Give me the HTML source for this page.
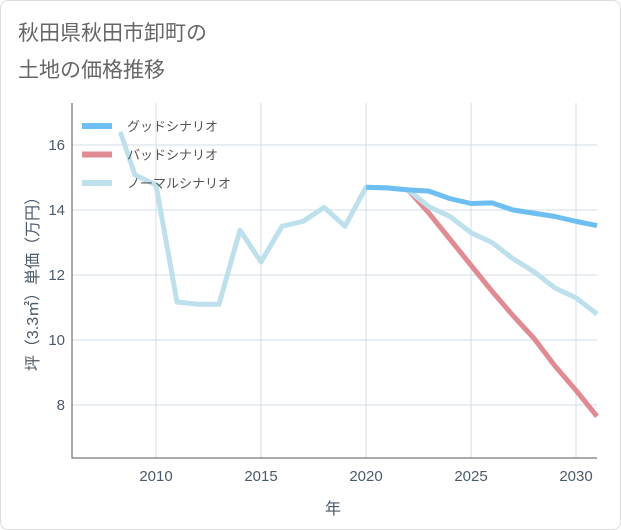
<!DOCTYPE html>
<html><head><meta charset="utf-8">
<style>
body{margin:0;background:#fff;font-family:"Liberation Sans","Noto Sans CJK JP",sans-serif;}
#wrap{position:relative;width:619px;height:528px;border:1px solid #ddd;border-radius:8px;overflow:hidden;}
</style></head><body>
<div id="wrap">
<svg id="chart" width="621" height="530" style="position:absolute;left:-1px;top:-1px">
<text x="18" y="40" font-size="21" fill="#666">秋田県秋田市卸町の</text>
<text x="18" y="77" font-size="21" fill="#666">土地の価格推移</text>
<g id="grid"></g><g id="axes"></g><g id="series"></g><g id="legend"></g>
<text x="333" y="514" font-size="16" fill="#4a5a6a" text-anchor="middle">年</text>
<text transform="translate(38,280) rotate(-90)" font-size="16" fill="#4a5a6a" text-anchor="middle">坪（3.3㎡）単価（万円）</text>
</svg>
</div>
<script>
const xTicks=[2010,2015,2020,2025,2030];
const yTicks=[8,10,12,14,16];
const normalYears=[2008.3,2009,2010,2011,2012,2013,2014,2015,2016,2017,2018,2019,2020,2021,2022,2023,2024,2025,2026,2027,2028,2029,2030,2031];
const normalVals=[16.4,15.08,14.77,11.17,11.1,11.1,13.38,12.4,13.5,13.65,14.08,13.5,14.7,14.68,14.62,14.1,13.8,13.3,13.0,12.5,12.1,11.6,11.3,10.8];
const goodYears=[2020,2021,2022,2023,2024,2025,2026,2027,2028,2029,2030,2031];
const goodVals=[14.7,14.68,14.62,14.58,14.35,14.2,14.22,14.0,13.9,13.8,13.65,13.52];
const badYears=[2022,2023,2024,2025,2026,2027,2028,2029,2030,2031];
const badVals=[14.62,13.9,13.1,12.3,11.5,10.75,10.05,9.2,8.45,7.65];
const X0=72,X1=597,Y0=103,Y1=458;
const x=v=>X0+(v-2006)*21;
const y=v=>145+(16-v)*32.5;
const NS='http://www.w3.org/2000/svg';
function mk(tag,attrs,parent,text){const e=document.createElementNS(NS,tag);for(const k in attrs)e.setAttribute(k,attrs[k]);if(text!=null)e.textContent=text;parent.appendChild(e);return e;}
const grid=document.getElementById('grid'),axes=document.getElementById('axes'),ser=document.getElementById('series'),leg=document.getElementById('legend');
xTicks.forEach(t=>{
 const l=mk('line',{x1:x(t),x2:x(t),y1:Y0,y2:Y1,stroke:'#d0dce8','stroke-width':1},grid);
 
 
 const tx=mk('text',{x:x(t),y:481,'font-size':15,fill:'#4a5a6a','text-anchor':'middle'},axes,t);
 
 
});
yTicks.forEach(t=>{
 const l=mk('line',{x1:X0,x2:X1,y1:y(t),y2:y(t),stroke:'#d0dce8','stroke-width':1},grid);
 
 
 const tx=mk('text',{x:65,y:y(t)+5,'font-size':15,fill:'#4a5a6a','text-anchor':'end'},axes,t);
 
 
});
const ax=mk('path',{d:`M${X0} ${Y0}V${Y1}H${X1}`,stroke:'#555','stroke-width':1,fill:'none'},axes);


function line(ys,vs,color,name){
 const d=ys.map((yr,i)=>(i?'L':'M')+x(yr)+' '+y(vs[i])).join('');
 const p=mk('path',{d:d,stroke:color,'stroke-width':5,fill:'none','stroke-linejoin':'round'},ser);
 
 
}
line(badYears,badVals,'#e08a92','bad-scenario-line');
line(normalYears,normalVals,'#bde0ec','normal-scenario-line');
line(goodYears,goodVals,'#6cbff0','good-scenario-line');
const items=[['グッドシナリオ','#6cbff0'],['バッドシナリオ','#e08a92'],['ノーマルシナリオ','#bde0ec']];
items.forEach((it,i)=>{
 const yy=126+i*28.5;
 const l=mk('line',{x1:82,x2:112,y1:yy,y2:yy,stroke:it[1],'stroke-width':6},leg);
 
 
 const t=mk('text',{x:127,y:yy+5,'font-size':13,fill:'#555'},leg,it[0]);
 
 
});
</script>
</body></html>
